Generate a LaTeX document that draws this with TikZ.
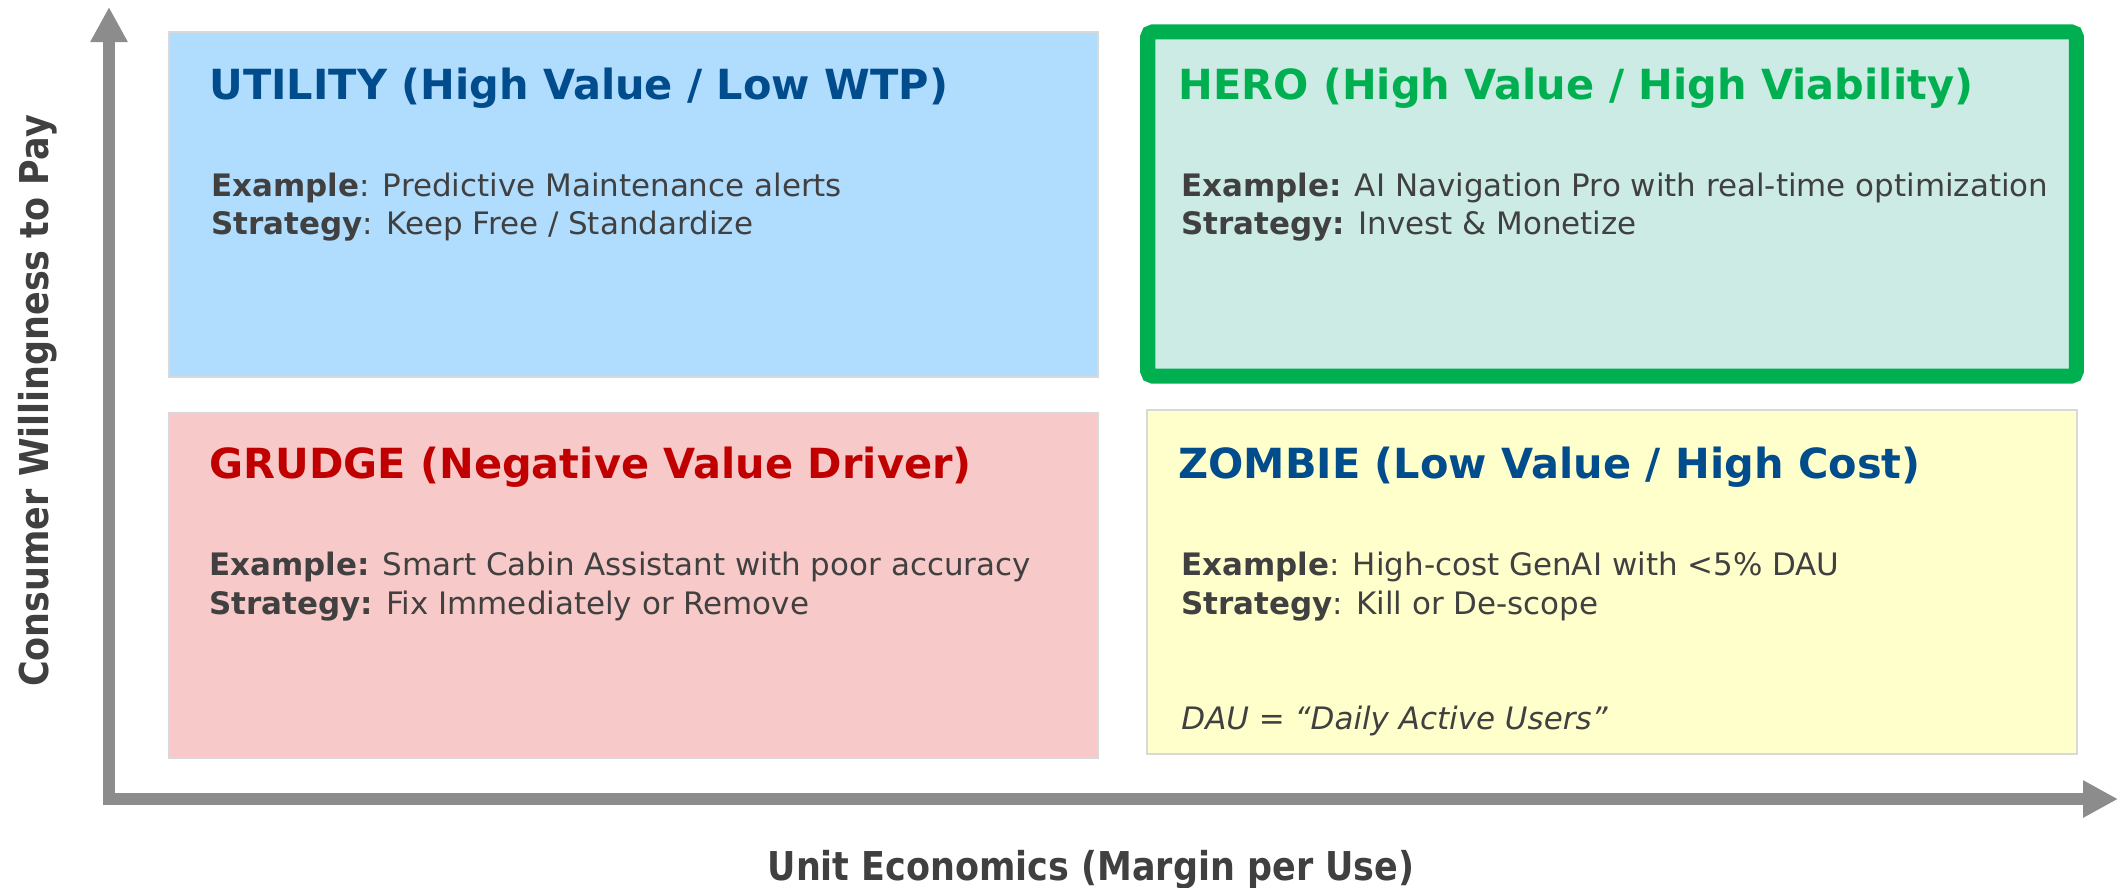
\documentclass[tikz,border=0pt]{standalone}
\usepackage{fontspec}
\setmainfont{DejaVu Sans}
\newfontfamily\axisfont[FakeStretch=0.88]{DejaVu Sans}
\usetikzlibrary{arrows.meta,positioning}
\definecolor{utilfill}{HTML}{B0DCFD}
\definecolor{herofill}{HTML}{CCEBE5}
\definecolor{grudgefill}{HTML}{F7C9C8}
\definecolor{zombiefill}{HTML}{FFFFCC}
\definecolor{navyblue}{HTML}{004C8C}
\definecolor{herogreen}{HTML}{00B050}
\definecolor{grudgered}{HTML}{C00000}
\definecolor{bodygray}{HTML}{404040}
\definecolor{boxgray}{HTML}{D9D9D9}
\definecolor{axisgray}{HTML}{8C8C8C}
\tikzset{
  quad/.style={draw=boxgray, line width=0.02cm, inner sep=0pt, outer sep=0pt,
    minimum width=9.29cm, minimum height=3.45cm},
  quadtitle/.style={anchor=base west, inner sep=0pt, font=\fontsize{11.8pt}{14pt}\selectfont\bfseries},
  quadbody/.style={anchor=base west, inner sep=0pt, text=bodygray, font=\fontsize{8.8pt}{10.5pt}\selectfont},
  axislabel/.style={anchor=base, inner sep=0pt, text=bodygray, font=\axisfont\fontsize{11.3pt}{13pt}\selectfont\bfseries},
  axis/.style={draw=axisgray, line width=0.12cm, line join=miter,
    {Triangle[length=0.35cm,width=0.35cm]}-{Triangle[length=0.35cm,width=0.35cm]}}
}
\begin{document}
\begin{tikzpicture}[x=0.01cm,y=-0.01cm]
\useasboundingbox (0,0) rectangle (2118,887);

% axes
\coordinate (origin) at (109,799);
\coordinate (ytip) at (109,7);
\coordinate (xtip) at (2118,799);
\draw[axis] (ytip) -- (origin) -- (xtip);
\node[axislabel, rotate=90] (ylabel) at (48,401) {Consumer Willingness to Pay};
\node[axislabel] (xlabel) at (1091,880) {Unit Economics (Margin per Use)};

% quadrants
\node[quad, fill=utilfill] (utility) at (633.5,204.5) {};
\node[quad, fill=grudgefill] (grudge) at (633.5,585.5) {};
\node[quad, fill=zombiefill, minimum width=9.30cm, minimum height=3.44cm] (zombie) at (1612,582) {};
\node[quad, fill=herofill, draw=herogreen, line width=0.15cm, rounded corners=0.05cm,
  minimum width=9.28cm, minimum height=3.44cm] (hero) at (1612,204) {};

\node[quadtitle, text=navyblue] (utiltitle) at ([shift={(40,68)}]utility.north west) {UTILITY (High Value / Low WTP)};
\node[quadbody] (utilex) at ([shift={(42,165)}]utility.north west) {\textbf{Example}: Predictive Maintenance alerts};
\node[quadbody] (utilstrat) at ([shift={(0,38)}]utilex.base west) {\textbf{Strategy}: Keep Free / Standardize};

\node[quadtitle, text=herogreen] (herotitle) at ([shift={(30,68)}]hero.north west) {HERO (High Value / High Viability)};
\node[quadbody] (heroex) at ([shift={(33,165)}]hero.north west) {\textbf{Example:} AI Navigation Pro with real-time optimization};
\node[quadbody] (herostrat) at ([shift={(0,38)}]heroex.base west) {\textbf{Strategy:} Invest \& Monetize};

\node[quadtitle, text=grudgered] (grudgetitle) at ([shift={(40,66)}]grudge.north west) {GRUDGE (Negative Value Driver)};
\node[quadbody] (grudgeex) at ([shift={(40,163)}]grudge.north west) {\textbf{Example:} Smart Cabin Assistant with poor accuracy};
\node[quadbody] (grudgestrat) at ([shift={(0,39)}]grudgeex.base west) {\textbf{Strategy:} Fix Immediately or Remove};

\node[quadtitle, text=navyblue] (zombietitle) at ([shift={(31,69)}]zombie.north west) {ZOMBIE (Low Value / High Cost)};
\node[quadbody] (zombieex) at ([shift={(34,166)}]zombie.north west) {\textbf{Example}: High-cost GenAI with <5\% DAU};
\node[quadbody] (zombiestrat) at ([shift={(0,39)}]zombieex.base west) {\textbf{Strategy}: Kill or De-scope};
\node[quadbody] (zombienote) at ([shift={(0,154)}]zombieex.base west) {\itshape DAU = “Daily Active Users”};
\end{tikzpicture}
\end{document}
